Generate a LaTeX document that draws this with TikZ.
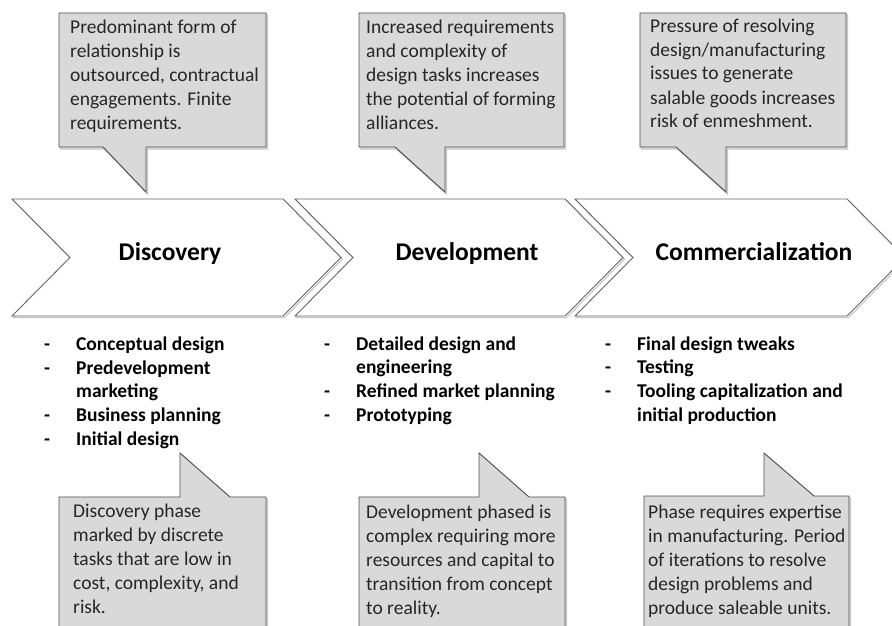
\documentclass[tikz,border=0pt]{standalone}
\usepackage{fontspec}
\setmainfont{Carlito}

\newcommand{\listdash}{\makebox[32pt][l]{-}}
\newcommand{\listgap}{\hspace*{32pt}}

\begin{document}
\begin{tikzpicture}[
  x=1pt, y=-1pt,
  phase/.style={draw=black!60, line width=0.9pt, fill=white, line join=miter},
  bubble/.style={draw=black!70, line width=0.9pt, fill=black!15},
  shade/.style={draw=black!22, line width=1.2pt, fill=black!10},
  title/.style={anchor=base, inner sep=0pt,
                font=\fontsize{25.5}{30}\selectfont\bfseries},
  % multi-line nodes sit on the baseline of their last line
  note/.style={anchor=base west, align=left, inner sep=0pt, text=black!85,
               font=\fontsize{19.5}{24}\selectfont},
  item/.style={anchor=base west, align=left, inner sep=0pt,
               font=\fontsize{19.5}{23.6}\selectfont\bfseries}
]
\useasboundingbox (0,0) rectangle (892,626);

% phase arrows
\draw[shade, fill=none, shift={(1.5,1.5)}] (12,199) -- (283,199) -- (341,257.5) -- (283,316) -- (12,316) -- (70,257.5) -- cycle;
\draw[shade, fill=none, shift={(1.5,1.5)}] (295,199) -- (565,199) -- (623,257.5) -- (565,316) -- (295,316) -- (353,257.5) -- cycle;
\draw[shade, fill=none, shift={(1.5,1.5)}] (575,199) -- (847,199) -- (905,257.5) -- (847,316) -- (575,316) -- (633,257.5) -- cycle;
\draw[phase] (12,199) -- (283,199) -- (341,257.5) -- (283,316) -- (12,316) -- (70,257.5) -- cycle;
\draw[phase] (295,199) -- (565,199) -- (623,257.5) -- (565,316) -- (295,316) -- (353,257.5) -- cycle;
\draw[phase] (575,199) -- (847,199) -- (905,257.5) -- (847,316) -- (575,316) -- (633,257.5) -- cycle;

\node[title] (disc) at (170,260) {Discovery};
\node[title] (dev)  at (467,260) {Development};
\node[title] (comm) at (754,260) {Commercialization};

% upper callouts
\draw[shade, shift={(1.5,2)}] (59,13) -- (266,13) -- (266,147) -- (146,147) -- (146,192) -- (103,147) -- (59,147) -- cycle;
\draw[shade, shift={(1.5,2)}] (359,13) -- (564,13) -- (564,147) -- (445,147) -- (445,192) -- (395,147) -- (359,147) -- cycle;
\draw[shade, shift={(1.5,2)}] (640,13) -- (846,13) -- (846,147) -- (726,147) -- (726,192) -- (676,147) -- (640,147) -- cycle;
\draw[bubble] (59,13) -- (266,13) -- (266,147) -- (146,147) -- (146,192) -- (103,147) -- (59,147) -- cycle;
\draw[bubble] (359,13) -- (564,13) -- (564,147) -- (445,147) -- (445,192) -- (395,147) -- (359,147) -- cycle;
\draw[bubble] (640,13) -- (846,13) -- (846,147) -- (726,147) -- (726,192) -- (676,147) -- (640,147) -- cycle;

\node[note] (discup) at (70,129)
  {Predominant form of\\ relationship is\\ outsourced, contractual\\ engagements. Finite\\ requirements.};
\node[note] (devup) at (366,129)
  {Increased requirements\\ and complexity of\\ design tasks increases\\ the potential of forming\\ alliances.};
\node[note] (commup) at (650,128)
  {Pressure of resolving\\ design/manufacturing\\ issues to generate\\ salable goods increases\\ risk of enmeshment.};

% activity lists
\node[item] (disclist) at (44,445)
  {\listdash Conceptual design\\ \listdash Predevelopment\\ \listgap marketing\\ \listdash Business planning\\ \listdash Initial design};
\node[item] (devlist) at (324,421)
  {\listdash Detailed design and\\ \listgap engineering\\ \listdash Refined market planning\\ \listdash Prototyping};
\node[item] (commlist) at (605,421)
  {\listdash Final design tweaks\\ \listdash Testing\\ \listdash Tooling capitalization and\\ \listgap initial production};

% lower callouts
\draw[shade, shift={(1.5,2)}] (59,640) -- (59,497) -- (180,497) -- (180,453) -- (230,497) -- (266,497) -- (266,640);
\draw[shade, shift={(1.5,2)}] (359,640) -- (359,497) -- (479,497) -- (479,453) -- (529,497) -- (565,497) -- (565,640);
\draw[shade, shift={(1.5,2)}] (644,640) -- (644,496) -- (764,496) -- (764,453) -- (814,496) -- (849,496) -- (849,640);
\draw[bubble] (59,640) -- (59,497) -- (180,497) -- (180,453) -- (230,497) -- (266,497) -- (266,640);
\draw[bubble] (359,640) -- (359,497) -- (479,497) -- (479,453) -- (529,497) -- (565,497) -- (565,640);
\draw[bubble] (644,640) -- (644,496) -- (764,496) -- (764,453) -- (814,496) -- (849,496) -- (849,640);

\node[note] (disclow) at (73,613)
  {Discovery phase\\ marked by discrete\\ tasks that are low in\\ cost, complexity, and\\ risk.};
\node[note] (devlow) at (366,614)
  {Development phased is\\ complex requiring more\\ resources and capital to\\ transition from concept\\ to reality.};
\node[note] (commlow) at (648,614)
  {Phase requires expertise\\ in manufacturing. Period\\ of iterations to resolve\\ design problems and\\ produce saleable units.};
\end{tikzpicture}
\end{document}
